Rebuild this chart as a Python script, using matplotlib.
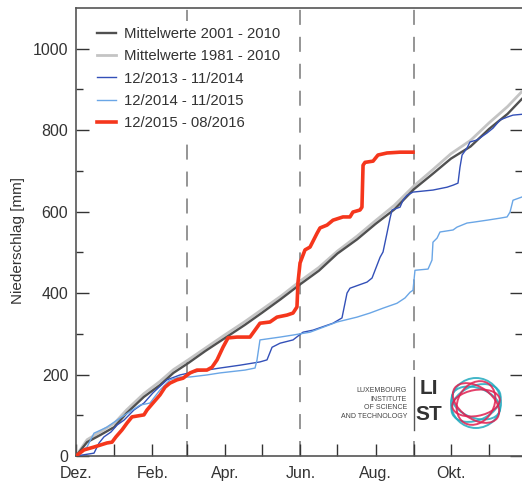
import matplotlib
matplotlib.use("Agg")
import matplotlib.pyplot as plt
from matplotlib.patches import Ellipse, Rectangle
from matplotlib.lines import Line2D

plt.rcParams['font.family'] = ['Liberation Sans', 'DejaVu Sans']
plt.rcParams['lines.scale_dashes'] = False

# Tage seit 1. Dezember -> kumulierter Niederschlag [mm]
mw0110_tag = [0, 9, 20, 31, 41, 55, 68, 79, 91, 105, 121, 137, 151, 166, 182, 197, 212, 228, 243, 258, 274, 289, 304, 320, 335, 350, 362, 365]
mw0110_mm = [0, 34, 52, 71, 105, 145, 174, 204, 228, 258, 290, 322, 352, 385, 422, 455, 497, 532, 570, 605, 655, 692, 730, 760, 803, 840, 878, 882]

mw8110_tag = [0, 9, 20, 31, 41, 55, 68, 79, 91, 105, 121, 137, 151, 166, 182, 197, 212, 228, 243, 258, 274, 289, 304, 320, 335, 350, 362, 365]
mw8110_mm = [0, 40, 60, 80, 113, 153, 183, 212, 236, 265, 298, 330, 360, 392, 430, 463, 503, 540, 578, 615, 663, 702, 742, 775, 818, 858, 896, 900]

j2014_tag = [0, 14.6, 18.7, 22.7, 28.4, 33.3, 38.9, 47.0, 55.1, 62.4, 73.8, 84.3, 94.9, 106.2, 116.8, 133.0, 149.2, 154.9, 159.0, 165.5,
             176.0, 184.1, 192.2, 208.4, 215.7, 219.8, 222.2, 236.0, 240.1, 246.6, 249.0, 252.2, 254.7, 256.3, 262.8, 265.2, 268.4,
             273.3, 289.5, 300.9, 305.8, 309.8, 311.4, 313.1, 317.1, 319.5, 325.2, 333.3, 338.2, 343.9, 349.6, 354.4, 361.7, 365]
j2014_mm = [0, 7, 32, 47, 59, 76, 88, 113, 130, 155, 187, 199, 206, 211, 216, 223, 231, 236, 267, 277,
            285, 304, 309, 326, 339, 400, 412, 427, 437, 488, 501, 547, 584, 604, 611, 628, 640,
            648, 653, 660, 665, 670, 709, 739, 756, 771, 776, 793, 805, 825, 832, 837, 839, 840]

j2015_tag = [0, 8.9, 14.6, 20.3, 25.1, 35.7, 51.9, 60.0, 68.1, 76.2, 84.3, 92.5, 106.2, 116.8, 137.1, 145.2, 146.8, 149.2, 165.5,
             176.0, 189.8, 211.7, 227.9, 238.4, 249.0, 260.3, 266.8, 270.9, 273.3, 274.9, 285.5, 288.7, 289.5, 292.8, 295.2,
             305.8, 309.0, 317.1, 322.0, 333.3, 343.9, 349.6, 352.0, 354.4, 361.7, 365]
j2015_mm = [0, 22, 56, 64, 71, 93, 125, 130, 162, 187, 194, 194, 199, 204, 211, 216, 236, 285, 292,
            297, 304, 329, 341, 351, 363, 375, 388, 402, 407, 456, 459, 481, 525, 535, 550,
            555, 562, 572, 574, 579, 584, 587, 599, 628, 636, 638]

j2016_tag = [0, 6.5, 14.6, 25.1, 29.2, 32.4, 37.3, 41.4, 45.4, 55.1, 57.6, 62.4, 68.1, 72.2, 76.2, 81.9, 86.8, 92.5, 98.1, 106.2,
             110.3, 114.4, 119.2, 123.3, 130.6, 141.1, 149.2, 157.3, 163.0, 171.1, 176.0, 179.2, 180.0, 181.7, 185.7, 189.8,
             195.5, 197.9, 203.6, 208.4, 216.5, 222.2, 224.6, 230.3, 231.9, 232.8, 234.4, 240.9, 244.9, 252.2, 262.8, 273.3]
j2016_mm = [0, 15, 22, 32, 34, 47, 64, 81, 96, 101, 113, 130, 150, 169, 179, 187, 191, 204, 211, 211,
            218, 236, 267, 290, 292, 292, 326, 329, 341, 346, 351, 366, 425, 474, 506, 513,
            547, 560, 567, 579, 587, 587, 599, 604, 611, 714, 721, 724, 739, 744, 746, 746]

monat_tag = [0, 31, 62, 90, 121, 151, 182, 212, 243, 274, 304, 335]
monat_label = ["Dez.", "", "Feb.", "", "Apr.", "", "Jun.", "", "Aug.", "", "Okt.", ""]
saison_tag = [90, 182, 274]

fig = plt.figure(figsize=(5.22, 4.82), dpi=100)
ax = fig.add_axes([76 / 522, 26 / 482, 446 / 522, 448 / 482])

# Jahreszeiten
for d in saison_tag:
    ax.axvline(d, color='#8c8c8c', lw=1.3, dashes=(10.8, 8.6), zorder=1)

l2 = ax.plot(mw8110_tag, mw8110_mm, color='#c4c4c4', lw=2.0, zorder=2)[0]
l1 = ax.plot(mw0110_tag, mw0110_mm, color='#505050', lw=1.7, zorder=3)[0]
l3 = ax.plot(j2014_tag, j2014_mm, color='#3350b8', lw=1.0, zorder=4)[0]
l4 = ax.plot(j2015_tag, j2015_mm, color='#6aa6e6', lw=1.0, zorder=4)[0]
l5 = ax.plot(j2016_tag, j2016_mm, color='#f5361c', lw=2.6, zorder=5)[0]

ax.set_xlim(0, 361.7)
ax.set_ylim(0, 1100)

ax.set_xticks(monat_tag)
ax.set_xticklabels(monat_label)
ax.set_yticks(range(0, 1001, 200))
ax.set_yticks(range(100, 1100, 200), minor=True)
ax.tick_params(axis='x', direction='in', length=9, width=1, pad=7, labelsize=11.5, colors='#333333')
ax.tick_params(axis='y', which='both', direction='in', left=True, right=True, width=1, pad=5.5,
               labelsize=11.5, colors='#333333')
ax.tick_params(axis='y', which='major', length=9)
ax.tick_params(axis='y', which='minor', length=5)
for s in ['left', 'top', 'bottom']:
    ax.spines[s].set_color('#555555')
    ax.spines[s].set_linewidth(1.2)
ax.spines['right'].set_visible(False)

ax.set_ylabel("Niederschlag [mm]", fontsize=11, color='#333333')
ax.yaxis.set_label_coords((25 - 76) / 446, (456 - 240) / 448)

leg = ax.legend([l1, l2, l3, l4, l5],
                ["Mittelwerte 2001 - 2010", "Mittelwerte 1981 - 2010", "12/2013 - 11/2014",
                 "12/2014 - 11/2015", "12/2015 - 08/2016"],
                loc='upper left', bbox_to_anchor=(91 / 522, (482 - 21) / 482), bbox_transform=fig.transFigure,
                frameon=True, fancybox=False, edgecolor='none', facecolor='white', framealpha=1,
                fontsize=10.7, handlelength=1.3, handletextpad=0.5, labelspacing=0.56,
                borderpad=0.4, borderaxespad=0)
leg.set_zorder(10)
for t in leg.get_texts():
    t.set_color('#333333')

# LIST Logo
tr = fig.dpi_scale_trans
fig.add_artist(Rectangle((3.35, (482 - 438) / 100), 1.75, 0.68, transform=tr,
                         facecolor='white', edgecolor='none', zorder=5))
fig.text(407 / 522, (482 - 403.5) / 482, "LUXEMBOURG\nINSTITUTE\nOF SCIENCE\nAND TECHNOLOGY",
         ha='right', va='center', fontsize=5, linespacing=1.3, color='#444444', zorder=6)
fig.add_artist(Line2D([4.14, 4.14], [(482 - 377) / 100, (482 - 430) / 100], transform=tr,
                      color='#555555', lw=1, zorder=6))
fig.text(429 / 522, (482 - 388) / 482, "LI", ha='center', va='center', fontsize=15,
         fontweight='bold', color='#333333', zorder=6)
fig.text(429 / 522, (482 - 415) / 482, "ST", ha='center', va='center', fontsize=15,
         fontweight='bold', color='#333333', zorder=6)
ring_c = (4.76, (482 - 403) / 100)
for w, h, a, c in [(0.52, 0.34, 25, '#22aabf'), (0.50, 0.30, -20, '#22aabf'), (0.50, 0.50, 0, '#22aabf'),
                   (0.52, 0.32, -35, '#e02050'), (0.46, 0.36, 60, '#e02050'), (0.48, 0.26, 10, '#e02050')]:
    fig.add_artist(Ellipse(ring_c, w, h, angle=a, transform=tr, facecolor='none',
                           edgecolor=c, lw=1.4, alpha=0.85, zorder=6))

fig.savefig("out.png", dpi=100)
